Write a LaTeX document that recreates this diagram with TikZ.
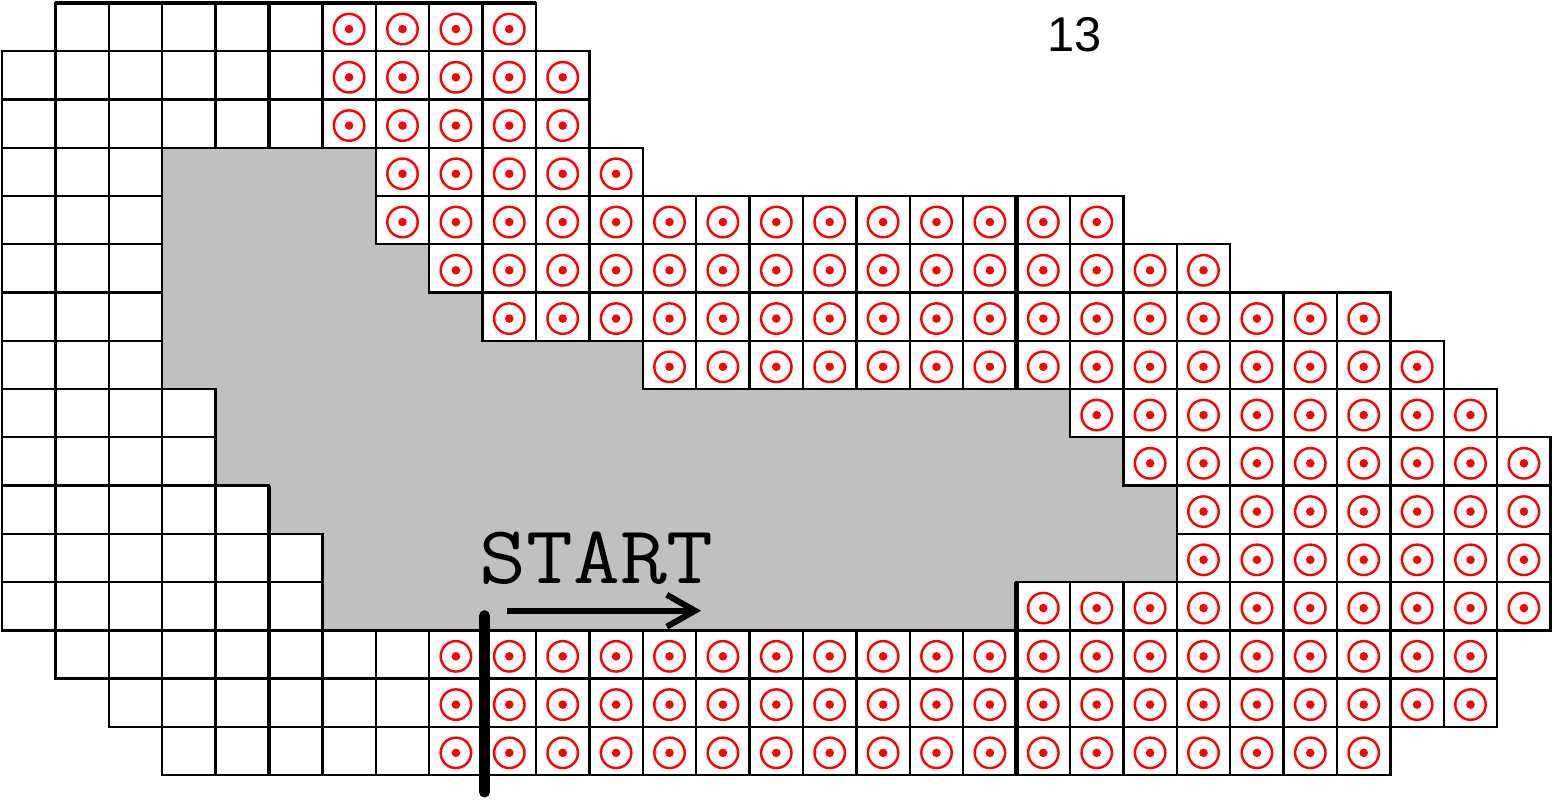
\documentclass[tikz,border=0pt]{standalone}
\usepackage{fontspec}
\usepackage{tikz}
\usetikzlibrary{arrows.meta}
\newfontfamily\numfont{Liberation Sans}
\definecolor{trackgray}{HTML}{C0C0C0}
\definecolor{markred}{HTML}{FF0000}
\tikzset{
  gridcell/.style  = {draw=black, line width=1.3pt},
  thickedge/.style = {draw=black, line width=2.6pt},
  ringmark/.style  = {draw=markred, line width=1.3pt},
  dotmark/.style   = {fill=markred},
  trackarea/.style = {fill=trackgray},
  lapnum/.style    = {inner sep=0pt, font=\numfont\fontsize{26}{26}\selectfont},
  startlbl/.style  = {inner sep=0pt, font=\ttfamily\fontsize{44}{44}\selectfont},
  dirarrow/.style  = {-{Straight Barb[length=15pt,width=17pt]}, line width=3.2pt},
  startbar/.style  = {line width=6pt, line cap=round},
}
\begin{document}
\begin{tikzpicture}[x=1cm, y=0.9036cm]
  \path[use as bounding box, fill=white] (-0.0375,0.062) rectangle (29.026,-16.52);
  % track surface
  \fill[trackarea] (3,-3) -- (7,-3) -- (7,-5) -- (8,-5) -- (8,-6) -- (9,-6) -- (9,-7)
    -- (12,-7) -- (12,-8) -- (20,-8) -- (20,-9) -- (21,-9) -- (21,-10) -- (22,-10)
    -- (22,-12) -- (19,-12) -- (19,-13) -- (6,-13) -- (6,-11) -- (5,-11) -- (5,-10)
    -- (4,-10) -- (4,-8) -- (3,-8) -- cycle;
  % row / empty cells from-to / marked cells from-to
  \foreach \r/\wa/\wb/\ca/\cb in {0/1/5/6/9, 1/0/5/6/10, 2/0/5/6/10, 3/0/2/7/11,
      4/0/2/7/20, 5/0/2/8/22, 6/0/2/9/25, 7/0/2/12/26, 8/0/3/20/27, 9/0/3/21/28,
      10/0/4/22/28, 11/0/5/22/28, 12/0/5/19/28, 13/1/7/8/27, 14/2/7/8/27, 15/3/7/8/25} {
    \foreach \c in {\wa,...,\wb}
      \draw[gridcell] (\c,-\r) rectangle ++(1,-1);
    \foreach \c in {\ca,...,\cb} {
      \draw[gridcell] (\c,-\r) rectangle ++(1,-1);
      \draw[ringmark] (\c+0.5,-\r-0.54) circle[radius=0.285cm];
      \fill[dotmark] (\c+0.5,-\r-0.54) circle[radius=0.08cm];
    }
  }
  % heavier edges
  \draw[thickedge] (1,0) -- (10,0);
  \draw[thickedge] (5,0) -- (5,-3);
  \draw[thickedge] (5,-10) -- (5,-16);
  \draw[thickedge] (19,-4) -- (19,-8);
  \draw[thickedge] (19,-12) -- (19,-16);
  % labels
  \node[lapnum] (lapcount) at (20.09,-0.663) {13};
  \node[startlbl, anchor=base] (starttext) at (11.137,-12.04) {\scalebox{1.1}[1]{START}};
  \coordinate (arrowtail) at (9.46,-12.595);
  \coordinate (arrowtip) at (13.09,-12.595);
  \draw[dirarrow] (arrowtail) -- (arrowtip);
  \coordinate (bartop) at (9.035,-12.70);
  \coordinate (barbot) at (9.035,-16.35);
  \draw[startbar] (bartop) -- (barbot);
\end{tikzpicture}
\end{document}
